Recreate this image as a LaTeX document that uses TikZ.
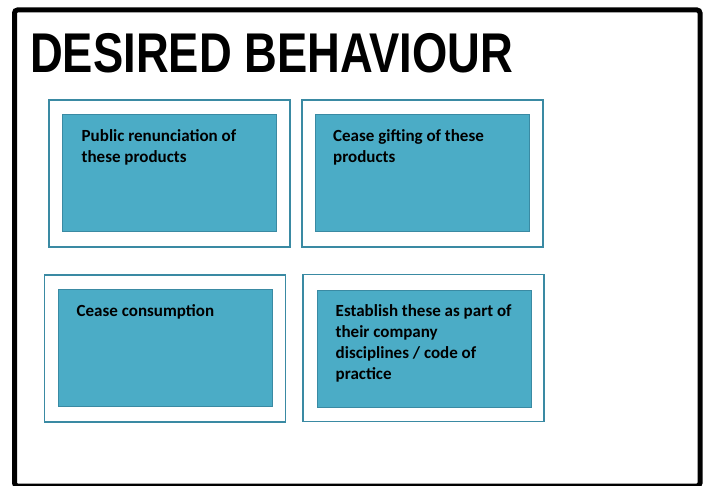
\documentclass[tikz,border=0pt]{standalone}
\usepackage{fontspec}
\setmainfont{Carlito}
\newfontfamily\titlefont{Liberation Sans}[FakeStretch=0.81]
\usepackage{xcolor}
\usepackage{tikz}
\usetikzlibrary{positioning}
\definecolor{boxfill}{HTML}{4BACC6}
\definecolor{boxline}{HTML}{3A8AA3}
\tikzset{
    outerbox/.style={rectangle,draw=boxline,fill=white,line width=1.5pt,minimum width=241pt,minimum height=147pt,inner sep=0pt},
    innerbox/.style={rectangle,draw=boxline,fill=boxfill,line width=1pt,minimum width=214pt,minimum height=117pt,inner sep=0pt},
    boxtext/.style={font=\fontsize{17}{21}\selectfont\bfseries,align=left,inner sep=0pt}
}

\begin{document}
\begin{tikzpicture}[x=1pt,y=1pt]
    \useasboundingbox (0,0) rectangle (709,-486);
    \node[rectangle,draw=black,line width=5pt,rounded corners=3pt,minimum width=685.5pt,minimum height=476pt,inner sep=0pt] (frame) at (357.25,-248) {};
    \node[anchor=base west,inner sep=0pt,font=\titlefont\bfseries\fontsize{56}{60}\selectfont] (title) at (30,-73) {DESIRED BEHAVIOUR};

    \node[outerbox] (out1) at (169.5,-173.5) {};
    \node[innerbox] (in1) at (169,-173.5) {};
    \node[boxtext,below right=15pt and 20pt of in1.north west] (txt1) {Public renunciation of\\these products};

    \node[outerbox] (out2) at (422.5,-173.5) {};
    \node[innerbox] (in2) at (422.5,-173.5) {};
    \node[boxtext,below right=15pt and 18pt of in2.north west] (txt2) {Cease gifting of these\\products};

    \node[outerbox] (out3) at (165,-348.5) {};
    \node[innerbox] (in3) at (165,-348) {};
    \node[boxtext,below right=15pt and 19pt of in3.north west] (txt3) {Cease consumption};

    \node[outerbox] (out4) at (423.5,-348) {};
    \node[innerbox] (in4) at (424,-348.5) {};
    \node[boxtext,below right=15pt and 19pt of in4.north west] (txt4) {Establish these as part of\\their company\\disciplines / code of\\practice};
\end{tikzpicture}
\end{document}
